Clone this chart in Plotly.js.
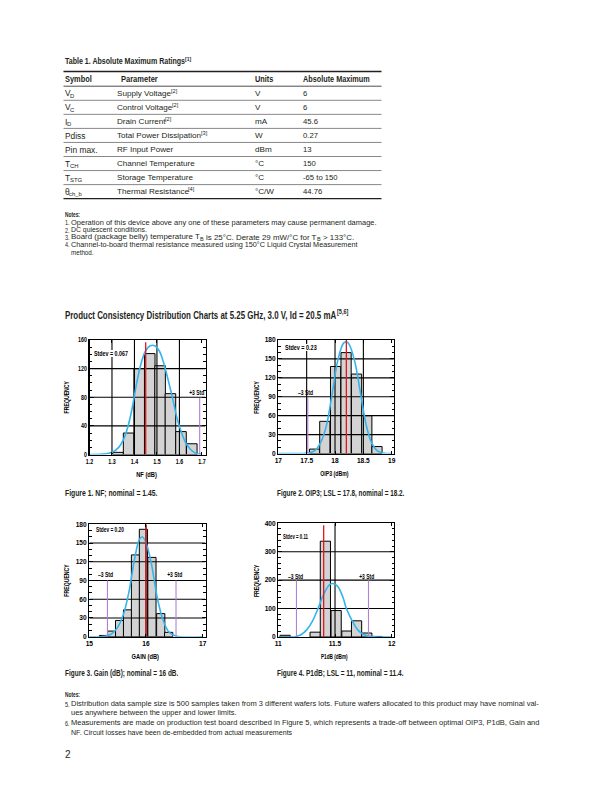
<!DOCTYPE html>
<html><head><meta charset="utf-8">
<script src="https://cdn.plot.ly/plotly-3.0.1.min.js"></script>
<style>html,body{margin:0;padding:0;background:#fff;} #chart{width:612px;height:792px;}</style>
</head><body><div id="chart"></div>
<script>
// ---------------- data ----------------
const tableTitle = 'Table 1. Absolute Maximum Ratings<sup>[1]</sup>';
const tableHeader = ['Symbol', 'Parameter', 'Units', 'Absolute Maximum'];
const tableSymbols = ['V<sub>D</sub>', 'V<sub>C</sub>', 'I<sub>D</sub>', 'Pdiss', 'Pin max.', 'T<sub>CH</sub>', 'T<sub>STG</sub>', 'θ<sub>ch_b</sub>'];
const tableParams = ['Supply Voltage<sup>[2]</sup>', 'Control Voltage<sup>[2]</sup>', 'Drain Current<sup>[2]</sup>', 'Total Power Dissipation<sup>[3]</sup>', 'RF Input Power', 'Channel Temperature', 'Storage Temperature', 'Thermal Resistance<sup>[4]</sup>'];
const tableUnits = ['V', 'V', 'mA', 'W', 'dBm', '°C', '°C', '°C/W'];
const tableMax = ['6', '6', '45.6', '0.27', '13', '150', '-65 to 150', '44.76'];
const notesTopNum = ['1.', '2.', '3.', '4.', ''];
const notesTop = [
  'Operation of this device above any one of these parameters may cause permanent damage.',
  'DC quiescent conditions.',
  'Board (package belly) temperature T<sub>B</sub> is 25°C. Derate 29 mW/°C for T<sub>B</sub> > 133°C.',
  'Channel-to-board thermal resistance measured using 150°C Liquid Crystal Measurement',
  'method.'
];
const sectionTitle = 'Product Consistency Distribution Charts at 5.25 GHz, 3.0 V, Id = 20.5 mA<sup>[5,6]</sup>';
const captions = ['Figure 1. NF; nominal = 1.45.', 'Figure 2. OIP3; LSL = 17.8, nominal = 18.2.', 'Figure 3. Gain (dB); nominal = 16 dB.', 'Figure 4. P1dB; LSL = 11, nominal = 11.4.'];
const notesBottomNum = ['5.', '', '6.', ''];
const notesBottom = [
  'Distribution data sample size is 500 samples taken from 3 different wafers lots. Future wafers allocated to this product may have nominal val-',
  'ues anywhere between the upper and lower limits.',
  'Measurements are made on production test board described in Figure 5, which represents a trade-off between optimal OIP3, P1dB, Gain and',
  'NF. Circuit losses have been de-embedded from actual measurements'
];
const pageNumber = '2';

// Figure 1 : NF
const nfBins = [1.327, 1.374, 1.421, 1.468, 1.514, 1.560, 1.607, 1.655];
const nfCounts = [3, 30, 120, 141, 124, 85, 32, 15];
const nfCurveX = [1.20, 1.26, 1.30, 1.33, 1.35, 1.37, 1.39, 1.41, 1.43, 1.45, 1.47, 1.49, 1.51, 1.53, 1.55, 1.57, 1.59, 1.61, 1.63, 1.65, 1.67, 1.70];
const nfCurveY = [0, 0.5, 3, 10, 20, 38, 65, 100, 128, 145, 152, 152, 145, 128, 104, 78, 50, 30, 15, 7, 2, 0];
const nfRefX = [1.45, 1.69];       // nominal, +3 std
const nfRefTop = [157, 79];
const nfStdLabels = ['+3 Std'];
const nfStdLabelX = [1.676];
const nfStdLabelY = [87];
const nfStdev = 'Stdev = 0.067';

// Figure 2 : OIP3
const oipBins = [17.64, 17.82, 18.01, 18.195, 18.38, 18.56, 18.74];
const oipCounts = [7, 51, 138, 160, 126, 60, 11];
const oipCurveX = [17.0, 17.4, 17.55, 17.65, 17.75, 17.85, 17.95, 18.05, 18.15, 18.2, 18.25, 18.35, 18.45, 18.55, 18.65, 18.75, 18.9, 19.0];
const oipCurveY = [0, 0, 1, 5, 18, 45, 95, 148, 175, 177, 173, 145, 95, 45, 16, 4, 0, 0];
const oipRefX = [18.2, 17.52];
const oipRefTop = [180, 89];
const oipStdLabels = ['–3 Std'];
const oipStdLabelX = [17.48];
const oipStdLabelY = [97];
const oipStdev = 'Stdev = 0.23';

// Figure 3 : Gain
const gainBins = [15.25, 15.395, 15.535, 15.675, 15.815, 15.955, 16.105, 16.26, 16.40];
const gainCounts = [2, 9, 26, 43, 131, 172, 127, 37, 7];
const gainCurveX = [15.0, 15.2, 15.3, 15.4, 15.5, 15.6, 15.7, 15.8, 15.88, 15.93, 15.98, 16.05, 16.1, 16.2, 16.3, 16.4, 16.5, 16.6, 17.0];
const gainCurveY = [0, 0, 1, 5, 15, 35, 72, 125, 155, 160, 155, 135, 115, 62, 27, 8, 2, 0, 0];
const gainRefX = [16.0, 15.32, 16.53];
const gainRefTop = [179, 90, 90];
const gainStdLabels = ['–3 Std', '+3 Std'];
const gainStdLabelX = [15.28, 16.5];
const gainStdLabelY = [99, 99];
const gainStdev = 'Stdev = 0.20';

// Figure 4 : P1dB
const p1Bins = [11.06, 11.325, 11.415, 11.51, 11.605, 11.69, 11.78, 11.87];
const p1Counts = [6, 17, 337, 93, 21, 57, 14, 2];
const p1CurveX = [11.0, 11.1, 11.15, 11.2, 11.25, 11.3, 11.35, 11.4, 11.45, 11.48, 11.52, 11.57, 11.6, 11.65, 11.7, 11.75, 11.8, 11.85, 11.9, 12.0];
const p1CurveY = [0, 0, 1, 8, 25, 55, 100, 150, 183, 188, 180, 140, 100, 58, 25, 9, 3, 1, 0, 0];
const p1RefX = [11.4, 11.16, 11.795];
const p1RefTop = [393, 200, 200];
const p1StdLabels = ['–3 Std', '+3 Std'];
const p1StdLabelX = [11.153, 11.78];
const p1StdLabelY = [212, 212];
const p1Stdev = 'Stdev = 0.11';

// ---------------- styles ----------------
const W = 612, H = 792;
const fx = p => p / W, fy = p => 1 - p / H;
const INK = '#231f20';
const SANS = "'Liberation Sans',Arial,sans-serif";
const BAR_FILL = '#d3d3d3', CURVE = '#33b5ec', RED = '#e8131b', PURPLE = '#b47fd6';

const annotations = [];
const annScale = [];   // horizontal squeeze (condensed type), 1 = natural
const shapes = [];
const cv = document.createElement('canvas').getContext('2d');
function measure(t, size, weight) {
  cv.font = (weight === 'bold' ? 'bold ' : '') + size + 'px "Liberation Sans", Arial, sans-serif';
  return cv.measureText(t).width;
}
function parseRich(s) {
  const out = [], re = /<(sub|sup)>(.*?)<\/\1>/g; let last = 0, m;
  while ((m = re.exec(s))) {
    if (m.index > last) out.push({t: s.slice(last, m.index), k: ''});
    out.push({t: m[2], k: m[1]}); last = re.lastIndex;
  }
  if (last < s.length) out.push({t: s.slice(last), k: ''});
  return out;
}
// text run laid out piece by piece (sub/sup as their own smaller texts); target = reference width in px
function rich(x, y, s, size, weight, target) {
  weight = weight || 'normal';
  const parts = parseRich(s).map(p => Object.assign(p, {sz: p.k ? size * 0.7 : size}));
  parts.forEach(p => { p.w = measure(p.t, p.sz, weight); });
  const total = parts.reduce((a, p) => a + p.w, 0);
  const sc = target ? target / total : 1;
  let cur = x;
  parts.forEach(p => {
    const lead = p.t.match(/^\s*/)[0];
    if (lead) cur += measure(lead, p.sz, weight) * sc;
    const rest = p.t.slice(lead.length), tt = rest.trim();
    if (tt) {
      const dy = p.k === 'sub' ? 0.3 * size : p.k === 'sup' ? -0.33 * size : 0;
      annotations.push({xref: 'paper', yref: 'paper', x: fx(cur), y: fy(y + dy), text: tt, showarrow: false,
        xanchor: 'left', yanchor: 'middle', align: 'left', borderpad: 0, borderwidth: 0,
        font: {family: SANS, size: p.sz, color: INK, weight: weight}});
      annScale.push(sc);
    }
    cur += measure(rest, p.sz, weight) * sc;
  });
}
function hline(x0, x1, y, w, c) {
  shapes.push({type: 'line', xref: 'paper', yref: 'paper', x0: fx(x0), x1: fx(x1), y0: fy(y), y1: fy(y), line: {color: c || INK, width: w}});
}

// ---------- table ----------
rich(64.5, 61.5, tableTitle, 8.8, 'bold', 126.5);
hline(63.5, 381.5, 71.5, 1.4);
const colX = [64.5, 120.5, 254.8, 303.2];
const headW = [26.7, 36.7, 18.3, 66.6];
tableHeader.forEach((h, i) => rich(colX[i], 79.3, h, 8.4, 'bold', headW[i]));
hline(63.5, 381.5, 86.2, 0.8);
const rowY0 = 93.4, rowStep = 14.05;
tableSymbols.forEach((s, i) => {
  const y = rowY0 + i * rowStep;
  rich(64.5, y, s, 8.4);
  rich(116.5, y, tableParams[i], 8.1);
  rich(255, y, tableUnits[i], 8.1);
  rich(303, y, tableMax[i], 7.7);
  hline(63.5, 381.5, y + 6.9, i === tableSymbols.length - 1 ? 1.2 : 0.7, i === tableSymbols.length - 1 ? INK : '#555');
});
rich(65, 215, 'Notes:', 7, 'bold', 15);
const notesTopW = [306, 76, 282.6, 287, 22.6];
notesTop.forEach((n, i) => {
  const y = 222.7 + i * 7.4;
  if (notesTopNum[i]) rich(65, y, notesTopNum[i], 6.8, 'normal', 4.6);
  rich(71.2, y, n, 6.8, 'normal', notesTopW[i]);
});

// ---------- section title ----------
rich(65, 315, sectionTitle, 10, 'bold', 283);

// ---------- captions ----------
rich(65, 493.3, captions[0], 9, 'bold', 92.5);
rich(277.2, 493.3, captions[1], 9, 'bold', 127.6);
rich(65, 673, captions[2], 9, 'bold', 113.5);
rich(277.2, 673, captions[3], 9, 'bold', 126.6);

// ---------- bottom notes ----------
rich(65, 694, 'Notes:', 7, 'bold', 15);
const notesBottomY = [704, 713.3, 723.3, 732.7];
const notesBottomW = [469, 166, 469, 221.7];
notesBottom.forEach((n, i) => {
  if (notesBottomNum[i]) rich(65, notesBottomY[i], notesBottomNum[i], 7, 'normal', 4.6);
  rich(70.8, notesBottomY[i], n, 7, 'normal', notesBottomW[i]);
});
rich(65, 754, pageNumber, 10);

// ---------- charts ----------
// xr: axis range (frame runs slightly past the last labelled tick, as in the reference)
const charts = [
  {key: '', bins: nfBins, counts: nfCounts, width: 0.047, cx: nfCurveX, cy: nfCurveY, refX: nfRefX, refTop: nfRefTop,
   lab: nfStdLabels, labX: nfStdLabelX, labY: nfStdLabelY, stdev: nfStdev, stdevX: 1.222, stdevY: 141, stdevW: 34,
   xdom: [89.5, 205.5], ydom: [454.5, 340], xr: [1.2, 1.716], xt: [1.2, 1.7], xd: 0.1, yr: [0, 160], yd: 40, ym: 10, fmt: '.1f',
   xtitle: 'NF (dB)', xtW: 20.7, xtY: 475, ytX: 67},
  {key: '2', bins: oipBins, counts: oipCounts, width: 0.18, cx: oipCurveX, cy: oipCurveY, refX: oipRefX, refTop: oipRefTop,
   lab: oipStdLabels, labX: oipStdLabelX, labY: oipStdLabelY, stdev: oipStdev, stdevX: 17.117, stdevY: 168, stdevW: 31.7,
   xdom: [278.3, 394], ydom: [453.5, 340], xr: [17, 19.04], xt: [17, 19], xd: 0.5, yr: [0, 180], yd: 30, ym: 10, fmt: '',
   xtitle: 'OIP3 (dBm)', xtW: 28.3, xtY: 474, ytX: 256.7},
  {key: '3', bins: gainBins, counts: gainCounts, width: 0.145, cx: gainCurveX, cy: gainCurveY, refX: gainRefX, refTop: gainRefTop,
   lab: gainStdLabels, labX: gainStdLabelX, labY: gainStdLabelY, stdev: gainStdev, stdevX: 15.12, stdevY: 171, stdevW: 28,
   xdom: [89.3, 205.5], ydom: [636.7, 524.3], xr: [15, 17.05], xt: [15, 17], xd: 1, yr: [0, 180], yd: 30, ym: 10, fmt: '',
   xtitle: 'GAIN (dB)', xtW: 27.3, xtY: 656.7, ytX: 67},
  {key: '4', bins: p1Bins, counts: p1Counts, width: 0.09, cx: p1CurveX, cy: p1CurveY, refX: p1RefX, refTop: p1RefTop,
   lab: p1StdLabels, labX: p1StdLabelX, labY: p1StdLabelY, stdev: p1Stdev, stdevX: 11.041, stdevY: 352, stdevW: 25,
   xdom: [278.3, 394], ydom: [637, 523.3], xr: [11, 12.02], xt: [11, 12], xd: 0.5, yr: [0, 400], yd: 100, ym: 20, fmt: '',
   xtitle: 'P1dB (dBm)', xtW: 26.7, xtY: 657.3, ytX: 256.7}
];

const traces = [];
const layout = {
  width: W, height: H, margin: {l: 0, r: 0, t: 0, b: 0}, paper_bgcolor: '#fff', plot_bgcolor: '#fff',
  showlegend: false, annotations: annotations, shapes: shapes
};
const tickFont = {family: SANS, size: 6.6, color: '#000', weight: 'bold'};
const LAB = 6.4;
const labFont = {family: SANS, size: LAB, color: '#000', weight: 'bold'};

function steps(r0, r1, d, withEnds) {
  const n = Math.round((r1 - r0) / d), out = [];
  for (let i = withEnds ? 0 : 1; i <= (withEnds ? n : n - 1); i++) out.push(+(r0 + i * d).toFixed(6));
  return out;
}

charts.forEach(c => {
  const xa = 'x' + c.key, ya = 'y' + c.key;
  traces.push({type: 'bar', x: c.bins, y: c.counts, width: c.width, xaxis: xa, yaxis: ya,
    marker: {color: BAR_FILL, line: {color: '#000', width: 1}}, hoverinfo: 'skip'});
  // grid drawn over the bars, at the axis tick values
  const gx = [], gy = [];
  steps(c.xt[0], c.xt[1], c.xd, false).forEach(t => { gx.push(t, t, null); gy.push(c.yr[0], c.yr[1], null); });
  steps(c.yr[0], c.yr[1], c.yd, false).forEach(t => { gx.push(c.xr[0], c.xr[1], null); gy.push(t, t, null); });
  traces.push({type: 'scatter', mode: 'lines', x: gx, y: gy, xaxis: xa, yaxis: ya, line: {color: '#000', width: 1.1},
    connectgaps: false, hoverinfo: 'skip'});
  traces.push({type: 'scatter', mode: 'lines', x: c.cx, y: c.cy, xaxis: xa, yaxis: ya,
    line: {color: CURVE, width: 1.6, shape: 'spline', smoothing: 1}, hoverinfo: 'skip'});
  c.refX.forEach((rx, i) => {
    traces.push({type: 'scatter', mode: 'lines', x: [rx, rx], y: [0, c.refTop[i]], xaxis: xa, yaxis: ya,
      line: {color: i === 0 ? RED : PURPLE, width: i === 0 ? 1.3 : 1.1}, hoverinfo: 'skip'});
  });
  const xname = 'xaxis' + c.key, yname = 'yaxis' + c.key;
  layout[xname] = {domain: [fx(c.xdom[0]), fx(c.xdom[1])], range: c.xr, anchor: ya,
    tickmode: 'array', tickvals: steps(c.xt[0], c.xt[1], c.xd, true),
    tickformat: c.fmt, showgrid: false, zeroline: false, layer: 'above traces',
    showline: true, linecolor: '#000', linewidth: 1.3, mirror: 'allticks', ticks: 'inside', ticklen: 3, tickcolor: '#000',
    tickfont: tickFont, fixedrange: true};
  layout[yname] = {domain: [fy(c.ydom[0]), fy(c.ydom[1])], range: c.yr, anchor: xa, dtick: c.yd, tick0: 0,
    showgrid: false, zeroline: false, layer: 'above traces',
    showline: true, linecolor: '#000', linewidth: 1.3, mirror: 'allticks', ticks: 'inside', ticklen: 4, tickcolor: '#000',
    minor: {dtick: c.ym, ticks: 'inside', ticklen: 2.5, tickcolor: '#000', showgrid: false},
    tickfont: tickFont, fixedrange: true};
  // labels inside plot
  annotations.push({xref: xa, yref: ya, x: c.stdevX, y: c.stdevY, text: c.stdev, showarrow: false, xanchor: 'left', align: 'left',
    yanchor: 'middle', borderpad: 0, borderwidth: 0, bgcolor: '#fff', font: labFont});
  annScale.push(c.stdevW / measure(c.stdev, LAB, 'bold'));
  c.lab.forEach((l, i) => {
    annotations.push({xref: xa, yref: ya, x: c.labX[i], y: c.labY[i], text: l, showarrow: false,
      xanchor: 'center', yanchor: 'middle', borderpad: 0, borderwidth: 0, font: labFont});
    annScale.push(15 / measure(l, LAB, 'bold'));
  });
  // axis titles
  annotations.push({xref: 'paper', yref: 'paper', x: fx((c.xdom[0] + c.xdom[1]) / 2 - 1.5), y: fy(c.xtY), text: c.xtitle,
    showarrow: false, xanchor: 'center', yanchor: 'middle', borderpad: 0, borderwidth: 0, font: labFont});
  annScale.push(c.xtW / measure(c.xtitle, LAB, 'bold'));
  annotations.push({xref: 'paper', yref: 'paper', x: fx(c.ytX), y: (fy(c.ydom[0]) + fy(c.ydom[1])) / 2, text: 'FREQUENCY',
    textangle: -90, showarrow: false, xanchor: 'center', yanchor: 'middle', borderpad: 0, borderwidth: 0, font: labFont});
  annScale.push(32.5 / measure('FREQUENCY', LAB, 'bold'));
});

Plotly.newPlot('chart', traces, layout, {staticPlot: true, displayModeBar: false}).then(gd => {
  // condensed typefaces: squeeze each text horizontally about its anchor point
  gd.querySelectorAll('g.annotation').forEach(g => {
    const idx = +g.getAttribute('data-index');
    const s = annScale[idx];
    const t = g.querySelector('text.annotation-text');
    if (!t || !s || Math.abs(s - 1) < 0.003) return;
    const x0 = parseFloat(t.getAttribute('x')) || 0;
    const prev = t.getAttribute('transform') || '';
    t.setAttribute('transform', prev + ' translate(' + (x0 * (1 - s)).toFixed(3) + ',0) scale(' + s.toFixed(4) + ',1)');
    const bg = g.querySelector('rect.bg');
    if (bg && annotations[idx].xanchor === 'left') bg.setAttribute('width', (parseFloat(bg.getAttribute('width')) * s).toFixed(2));
  });
  gd.querySelectorAll('.xtick text, .ytick text').forEach(t => {
    const L = t.getComputedTextLength();
    t.setAttribute('textLength', (L * 0.8).toFixed(2)); t.setAttribute('lengthAdjust', 'spacingAndGlyphs');
  });
});
</script>
</body></html>
